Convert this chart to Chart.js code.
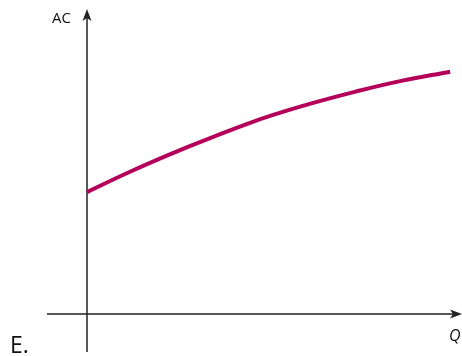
<!DOCTYPE html>
<html>
<head>
<meta charset="utf-8">
<script src="https://cdn.jsdelivr.net/npm/chart.js@4/dist/chart.umd.min.js"></script>
<style>
  html, body { margin: 0; padding: 0; background: #fff; }
  #mycanvas { display: block; }
</style>
</head>
<body>
<canvas id="mycanvas" width="462" height="356"></canvas>
<script>
// quantity values
var quantity = [0, 1.15, 2.49, 4.36, 5.70, 7.30, 8.37, 9.71];
// average cost at each quantity
var avgCost = [4.01, 4.68, 5.39, 6.29, 6.82, 7.35, 7.66, 7.97];

var xLabel = 'Q';
var yLabel = 'AC';
var panelLabel = 'E.';

var points = [];
for (var i = 0; i < quantity.length; i++) {
  points.push({ x: quantity[i], y: avgCost[i] });
}

// draws the two arrowed axes and the labels
var axesPlugin = {
  id: 'axesPlugin',
  beforeDatasetsDraw: function(chart) {
    var ctx = chart.ctx;
    var xs = chart.scales.x, ys = chart.scales.y;
    var x0 = xs.getPixelForValue(0);
    var y0 = ys.getPixelForValue(0);
    var yTop = ys.getPixelForValue(10);
    var xEnd = xs.getPixelForValue(10);
    ctx.save();
    ctx.strokeStyle = '#222';
    ctx.fillStyle = '#222';
    ctx.lineWidth = 1.5;
    ctx.beginPath();
    ctx.moveTo(x0, 352);
    ctx.lineTo(x0, yTop + 6);
    ctx.moveTo(47, y0);
    ctx.lineTo(xEnd - 6, y0);
    ctx.stroke();
    // arrow heads
    ctx.beginPath();
    ctx.moveTo(x0, yTop - 1);
    ctx.lineTo(x0 - 4.5, yTop + 11);
    ctx.lineTo(x0, yTop + 8);
    ctx.lineTo(x0 + 4.5, yTop + 11);
    ctx.closePath();
    ctx.fill();
    ctx.beginPath();
    ctx.moveTo(xEnd + 1, y0);
    ctx.lineTo(xEnd - 11, y0 - 4.5);
    ctx.lineTo(xEnd - 8, y0);
    ctx.lineTo(xEnd - 11, y0 + 4.5);
    ctx.closePath();
    ctx.fill();

    ctx.fillStyle = '#111';
    ctx.textBaseline = 'alphabetic';
    ctx.textAlign = 'left';
    ctx.font = '500 15px "Open Sans", "Noto Sans", sans-serif';
    ctx.fillText(yLabel, 52, 23);
    ctx.font = 'italic 500 16px "Open Sans", "Noto Sans", sans-serif';
    ctx.fillText(xLabel, 449, 341);
    ctx.font = '500 23px "Open Sans", "Noto Sans", sans-serif';
    ctx.fillText(panelLabel, 10, 353);
    ctx.restore();
  }
};

var chart = new Chart(document.getElementById('mycanvas'), {
  type: 'line',
  data: {
    datasets: [{
      data: points,
      borderColor: '#b5005a',
      borderWidth: 4,
      pointRadius: 0,
      fill: false,
      tension: 0.4,
      borderCapStyle: 'butt',
      clip: false
    }]
  },
  options: {
    responsive: false,
    animation: false,
    layout: { padding: { left: 87, right: 1, top: 10, bottom: 42 } },
    scales: {
      x: { type: 'linear', min: 0, max: 10, display: false },
      y: { type: 'linear', min: 0, max: 10, display: false }
    },
    plugins: {
      legend: { display: false },
      tooltip: { enabled: false }
    }
  },
  plugins: [axesPlugin]
});
</script>
</body>
</html>
